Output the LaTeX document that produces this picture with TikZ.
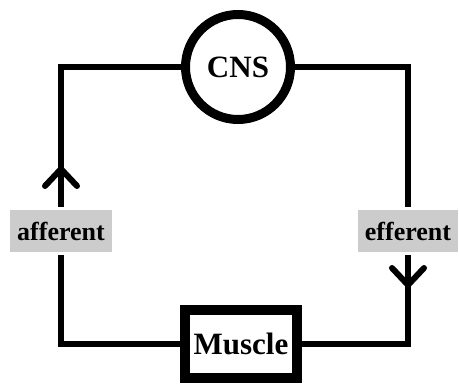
\documentclass[tikz,border=0pt]{standalone}
\usepackage{fontspec}
\setmainfont{Liberation Serif}
\usetikzlibrary{decorations.markings}
\begin{document}
\begin{tikzpicture}[x=1pt, y=-1pt, line width=6pt,
    organ/.style = {draw, circle, line width=9pt, minimum size=105pt, inner sep=0pt, font=\fontsize{31}{31}\selectfont\bfseries},
    tissue/.style = {draw, rectangle, line width=10pt, minimum width=112pt, minimum height=68pt, inner sep=0pt, font=\fontsize{31}{31}\selectfont\bfseries},
    nerve/.style = {fill=black!20, minimum height=42pt, inner sep=0pt, font=\fontsize{26}{26}\selectfont\bfseries},
    chevron/.style = {postaction={decorate}, decoration={markings, mark=at position #1 with {\draw[line width=6pt, line cap=round] (-17pt,16pt) -- (0,0) -- (-17pt,-16pt);}}}]
    \useasboundingbox (0,0) rectangle (459,385);
    \node[organ] (cns) at (238,67) {CNS};
    \node[tissue] (muscle) at (241,344) {Muscle};
    \node[nerve, minimum width=102pt] (aff) at (61,231) {afferent};
    \node[nerve, minimum width=100pt] (eff) at (408,231) {efferent};
    \draw (muscle.west) -| (aff.south);
    \draw[chevron=38pt] (aff.north) |- (cns.west);
    \draw (cns.east) -| (eff.north);
    \draw[chevron=30pt] (eff.south) |- (muscle.east);
\end{tikzpicture}
\end{document}
